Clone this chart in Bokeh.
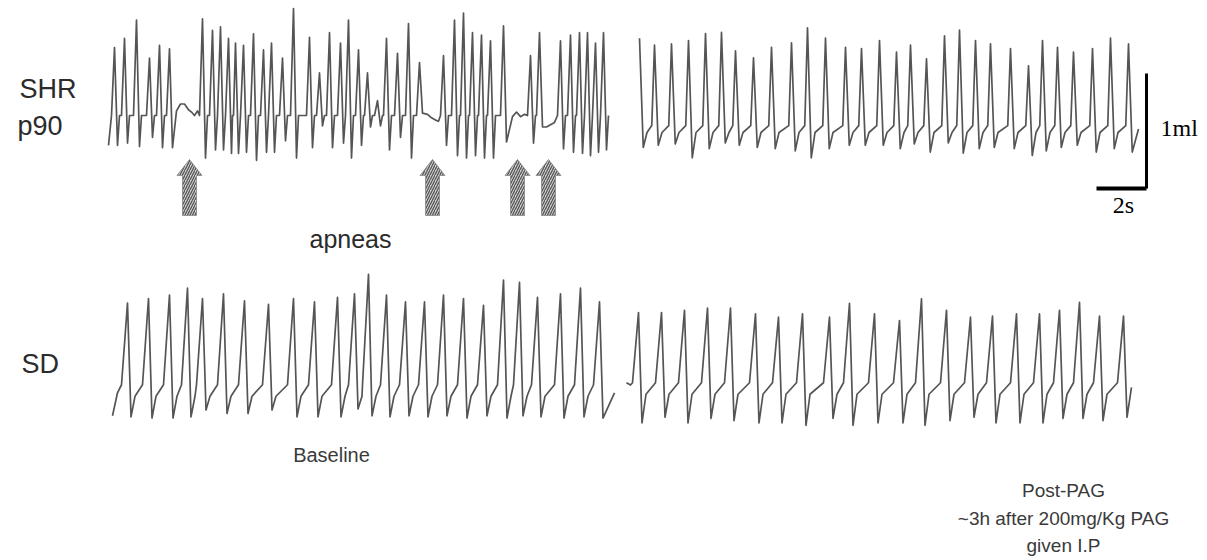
from bokeh.plotting import figure
from bokeh.models import Range1d, Label
from bokeh.embed import file_html
from bokeh.resources import INLINE

# ---------------- data ----------------
# time of each breath peak (s from trace start), peak and trough volume (ml, relative to resting level)

# SHR p90 - baseline
shr_base_t = [0.24, 0.64, 1.12, 1.64, 2.04, 2.44, 3.76, 4.16, 4.48, 4.80, 5.08, 5.40, 5.80, 6.20, 6.52,
              6.96, 7.40, 8.04, 8.44, 8.84, 9.28, 9.60, 10.00, 10.36, 10.76, 11.12, 11.56, 12.00, 12.44,
              13.40, 13.84, 14.20, 14.56, 14.92, 15.28, 15.80, 16.88, 17.24, 18.08, 18.48, 18.84, 19.16,
              19.48, 19.80]
shr_base_peak = [0.59, 0.67, 0.83, 0.50, 0.61, 0.58, 0.84, 0.74, 0.77, 0.67, 0.63, 0.61, 0.71, 0.57, 0.63,
                 0.50, 0.93, 0.68, 0.37, 0.72, 0.63, 0.83, 0.57, 0.37, 0.13, 0.67, 0.54, 0.80, 0.46,
                 0.52, 0.83, 0.89, 0.72, 0.70, 0.65, 0.78, 0.52, 0.72, 0.65, 0.70, 0.72, 0.72, 0.63, 0.72]
shr_base_trough = [-0.26, -0.24, -0.27, -0.19, -0.28, -0.28, -0.37, -0.30, -0.30, -0.33, -0.33, -0.32, -0.39,
                   -0.32, -0.32, -0.22, -0.37, -0.28, -0.09, -0.28, -0.24, -0.37, -0.26, -0.10, -0.09,
                   -0.30, -0.19, -0.37, 0.02, -0.26, -0.35, -0.37, -0.35, -0.37, -0.37, -0.23, -0.24,
                   -0.10, -0.29, -0.32, -0.33, -0.35, -0.32, -0.30]
# samples between breaths (trace start, apneas, trace end)
shr_base_rest_t = [0.00, 2.72, 2.88, 3.04, 3.20, 3.32, 3.44, 3.56, 12.76, 12.92, 13.08, 13.20,
                   16.16, 16.32, 16.48, 16.64, 17.52, 17.68, 17.84, 20.00]
shr_base_rest_v = [-0.26, 0.04, 0.10, 0.10, 0.05, 0.03, 0.00, 0.04, 0.01, -0.02, -0.04, -0.05,
                   -0.01, 0.03, -0.01, 0.01, -0.10, -0.08, -0.06, 0.00]
apnea_t = [3.24, 12.96, 16.36, 17.60]

# SHR p90 - post-PAG
shr_pag_t = [0.00, 0.60, 1.28, 1.96, 2.64, 3.28, 3.84, 4.56, 5.28, 6.08, 6.72, 7.44, 8.24, 8.88, 9.60,
             10.28, 10.84, 11.48, 12.20, 12.80, 13.44, 14.04, 14.84, 15.56, 16.12, 16.72, 17.36, 18.12,
             18.84, 19.56]
shr_pag_peak = [0.82, 0.76, 0.77, 0.80, 0.86, 0.87, 0.71, 0.65, 0.74, 0.78, 0.91, 0.82, 0.74, 0.73, 0.80,
                0.70, 0.76, 0.64, 0.84, 0.89, 0.80, 0.77, 0.73, 0.58, 0.80, 0.74, 0.70, 0.73, 0.82, 0.77]
shr_pag_trough = [-0.13, -0.11, -0.10, -0.22, -0.14, -0.09, -0.11, -0.13, -0.14, -0.16, -0.22, -0.14,
                  -0.11, -0.11, -0.11, -0.14, -0.10, -0.17, -0.09, -0.18, -0.14, -0.13, -0.14, -0.20,
                  -0.16, -0.13, -0.11, -0.17, -0.14, -0.17]
shr_pag_rest_t = [19.96]
shr_pag_rest_v = [0.03]

# SD - baseline
sd_base_t = [0.60, 1.44, 2.28, 3.00, 3.60, 4.44, 5.28, 6.24, 7.24, 8.08, 9.00, 9.68, 10.24, 10.96, 11.72,
             12.48, 13.24, 14.04, 14.84, 15.64, 16.28, 17.00, 17.92, 18.72, 19.48]
sd_base_peak = [0.76, 0.80, 0.83, 0.89, 0.80, 0.84, 0.78, 0.75, 0.80, 0.77, 0.81, 0.84, 1.01, 0.83, 0.77,
                0.77, 0.83, 0.80, 0.74, 0.96, 0.94, 0.81, 0.84, 0.89, 0.77]
sd_base_trough = [-0.23, -0.24, -0.24, -0.23, -0.17, -0.20, -0.20, -0.17, -0.23, -0.23, -0.23, -0.16,
                  -0.22, -0.23, -0.22, -0.23, -0.22, -0.24, -0.22, -0.24, -0.22, -0.23, -0.24, -0.23, -0.24]
sd_base_rest_t = [0.00, 0.20, 20.08]
sd_base_rest_v = [-0.22, -0.02, -0.02]

# SD - post-PAG
sd_pag_t = [0.48, 1.40, 2.32, 3.24, 4.16, 5.16, 6.08, 7.04, 8.12, 8.92, 9.92, 10.92, 11.80, 12.80, 13.76,
            14.64, 15.60, 16.52, 17.32, 18.12, 18.92, 19.88]
sd_pag_peak = [0.66, 0.66, 0.68, 0.70, 0.70, 0.65, 0.62, 0.65, 0.62, 0.74, 0.65, 0.59, 0.78, 0.68, 0.62,
               0.63, 0.65, 0.65, 0.68, 0.75, 0.63, 0.63]
sd_pag_trough = [-0.30, -0.25, -0.30, -0.26, -0.28, -0.30, -0.30, -0.32, -0.26, -0.32, -0.30, -0.30, -0.32,
                 -0.28, -0.25, -0.30, -0.30, -0.30, -0.26, -0.26, -0.28, -0.25]
sd_pag_rest_t = [0.00, 0.16, 20.20]
sd_pag_rest_v = [0.05, 0.03, 0.01]

scale_s = 2     # s
scale_ml = 1    # ml

row_labels = ["SHR", "p90", "SD"]
condition_labels = ["Baseline", "Post-PAG", "~3h after 200mg/Kg PAG", "given I.P"]

# ---------------- layout ----------------
W, H = 1207, 560
PX_S, PX_ML = 25.0, 115.0


def dx(X):
    return X / PX_S


def dy(Y):
    return (H - Y) / PX_ML


p = figure(width=W, height=H, x_range=Range1d(0, W / PX_S), y_range=Range1d(0, H / PX_ML),
           output_backend="svg", toolbar_location=None, min_border=0,
           x_axis_location=None, y_axis_location=None)
p.grid.visible = False
p.outline_line_color = None
p.background_fill_color = "white"
p.border_fill_color = "white"

TRACE_COLOR = "#555555"


def trace(X0, Y0, tt, pk, tr, rest_t, rest_v, rise, fall, rec, pre, post):
    pts = []
    n = len(tt)
    for i in range(n):
        pts.append((tt[i] - rise, pre))
        pts.append((tt[i], pk[i]))
        t_tr = tt[i] + fall
        pts.append((t_tr, tr[i]))
        nxt = tt[i + 1] - rise if i + 1 < n else 1e9
        if not any(t_tr < s < nxt for s in rest_t):
            pts.append((t_tr + rec, post))
    pts += list(zip(rest_t, rest_v))
    pts = sorted(q for q in pts if q[0] >= 0)
    xs = [dx(X0) + q[0] for q in pts]
    ys = [dy(Y0) + q[1] for q in pts]
    p.line(xs, ys, line_color=TRACE_COLOR, line_width=1.7, line_join="round")


trace(108, 115, shr_base_t, shr_base_peak, shr_base_trough, shr_base_rest_t, shr_base_rest_v,
      0.12, 0.12, 0.08, 0.0, 0.0)
trace(639, 132, shr_pag_t, shr_pag_peak, shr_pag_trough, shr_pag_rest_t, shr_pag_rest_v,
      0.11, 0.15, 0.15, 0.06, 0.0)
trace(112, 390, sd_base_t, sd_base_peak, sd_base_trough, sd_base_rest_t, sd_base_rest_v,
      0.24, 0.14, 0.16, 0.05, -0.05)
trace(626, 388, sd_pag_t, sd_pag_peak, sd_pag_trough, sd_pag_rest_t, sd_pag_rest_v,
      0.24, 0.14, 0.16, 0.05, -0.05)

# apnea arrows
ax_off = [0, 12.5, 7, 7, -7, -7, -12.5]
ay_px = [159, 175, 175, 215, 215, 175, 175]
axs, ays = [], []
for ta in apnea_t:
    cx = dx(108) + ta
    axs.append([cx + o / PX_S for o in ax_off])
    ays.append([dy(Y) for Y in ay_px])
p.patches(axs, ays, fill_color="#d4d4d4", hatch_pattern="/", hatch_color="#555555",
          hatch_scale=5, hatch_weight=1.3, line_color="#888888", line_width=0.8)

# scale bar
sx, sy = dx(1146), dy(188)
p.line([sx, sx], [sy, sy + scale_ml], line_color="black", line_width=3)
p.line([sx - scale_s, sx], [sy, sy], line_color="black", line_width=4)


def lab(text, X, Y, size, align="left", font="Liberation Sans", color="#2b2b2b"):
    p.add_layout(Label(x=dx(X), y=dy(Y), text=text, text_font=font, text_font_size=size,
                       text_align=align, text_baseline="alphabetic", text_color=color))


lab(row_labels[0], 19, 88, "27px")
lab(row_labels[1], 17, 125, "27px")
lab(row_labels[2], 21, 363, "27px")
lab("apneas", 350, 238, "25px", align="center")
lab(f"{scale_ml}ml", 1160, 127, "24px", font="Liberation Serif", color="black")
lab(f"{scale_s}s", 1123, 204, "24px", align="center", font="Liberation Serif", color="black")
lab(condition_labels[0], 331, 454, "20px", align="center", color="#3a3a3a")
lab(condition_labels[1], 1063, 490, "19px", align="center", color="#3a3a3a")
lab(condition_labels[2], 1063, 518, "19px", align="center", color="#3a3a3a")
lab(condition_labels[3], 1063, 545, "19px", align="center", color="#3a3a3a")

open("out.html", "w").write(file_html(p, INLINE))
